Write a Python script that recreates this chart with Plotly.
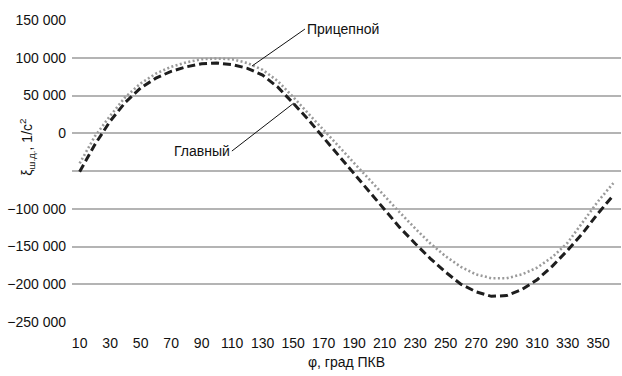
import plotly.graph_objects as go

# Crank angle, degrees (crankshaft rotation)
phi = [str(v) for v in range(10, 361, 10)]

# Acceleration of the master connecting rod, 1/s^2
main_rod = [
    -51000, -15000, 16000, 41000, 60000, 73000, 82000, 88000, 92000, 93000,
    91000, 86000, 77000, 61000, 40000, 18000, -6000, -30000, -54000, -78000,
    -102000, -125000, -146000, -166000, -184000, -200000, -210000, -216000,
    -215000, -207000, -194000, -176000, -155000, -132000, -106000, -82000,
]

# Acceleration of the articulated (trailing) rod, 1/s^2
trailing_rod = [
    -40000, -4000, 23000, 48000, 66000, 79000, 88000, 94000, 98000, 99000,
    98000, 93000, 84000, 69000, 48000, 26000, 4000, -18000, -39000, -61000,
    -83000, -105000, -126000, -146000, -163000, -177000, -187000, -192000,
    -192000, -187000, -178000, -164000, -145000, -118000, -90000, -66000,
]

x_tick_labels = [str(v) for v in range(10, 351, 20)]
y_tick_values = [150000, 100000, 50000, 0, -50000, -100000, -150000, -200000, -250000]
y_tick_labels = ["150 000", "100 000", "50 000", "0", "",
                 "\u2212100 000", "\u2212150 000", "\u2212200 000", "\u2212250 000"]

FONT = "Liberation Sans, Arial, sans-serif"
SIZE = 14

fig = go.Figure()
fig.add_trace(go.Scatter(
    x=phi, y=trailing_rod, mode="lines", name="Прицепной",
    line=dict(color="#9a9a9a", width=2.6, dash="2px,2.4px"),
))
fig.add_trace(go.Scatter(
    x=phi, y=main_rod, mode="lines", name="Главный",
    line=dict(color="#1e1e1e", width=3, dash="8px,4px"),
))

# Leader-line labels for both curves
fig.add_annotation(
    x=11.3, y=trailing_rod[11] - 4000, xref="x", yref="y",
    text="Прицепной", showarrow=True, arrowhead=0, arrowwidth=1,
    arrowcolor="#111", ax=53, ay=-37, xanchor="left", yanchor="middle",
    font=dict(family=FONT, size=SIZE, color="#111"),
)
fig.add_annotation(
    x=14.05, y=main_rod[14], xref="x", yref="y",
    text="Главный", showarrow=True, arrowhead=0, arrowwidth=1,
    arrowcolor="#111", ax=-62, ay=48, xanchor="right", yanchor="middle",
    font=dict(family=FONT, size=SIZE, color="#111"),
)

# Rotated y-axis caption
fig.add_annotation(
    xref="paper", yref="paper", x=-0.104, y=0.58,
    text="ξ<sub>ш.д.</sub>, 1/с<sup>2</sup>", textangle=-90,
    showarrow=False, font=dict(family=FONT, size=SIZE, color="#111"),
)

fig.update_layout(
    width=622, height=376,
    margin=dict(l=72, r=1, t=20, b=54),
    paper_bgcolor="white", plot_bgcolor="white",
    showlegend=False,
    font=dict(family=FONT, size=SIZE, color="#111"),
)
fig.update_xaxes(
    type="category", categoryorder="array", categoryarray=phi,
    range=[-0.5, len(phi) - 0.5],
    tickmode="array", tickvals=x_tick_labels, ticktext=x_tick_labels,
    showgrid=False, showline=False, zeroline=False,
    ticks="", ticklabelstandoff=11,
    title=dict(text="φ, град ПКВ", standoff=7, font=dict(family=FONT, size=SIZE)),
)
fig.update_yaxes(
    range=[-250000, 150000], tickmode="array",
    tickvals=y_tick_values, ticktext=y_tick_labels,
    showgrid=True, gridcolor="#b4b4b4", gridwidth=1.5,
    zeroline=False, showline=False, ticks="", ticklabelstandoff=5,
)

fig.write_html("out.html")
